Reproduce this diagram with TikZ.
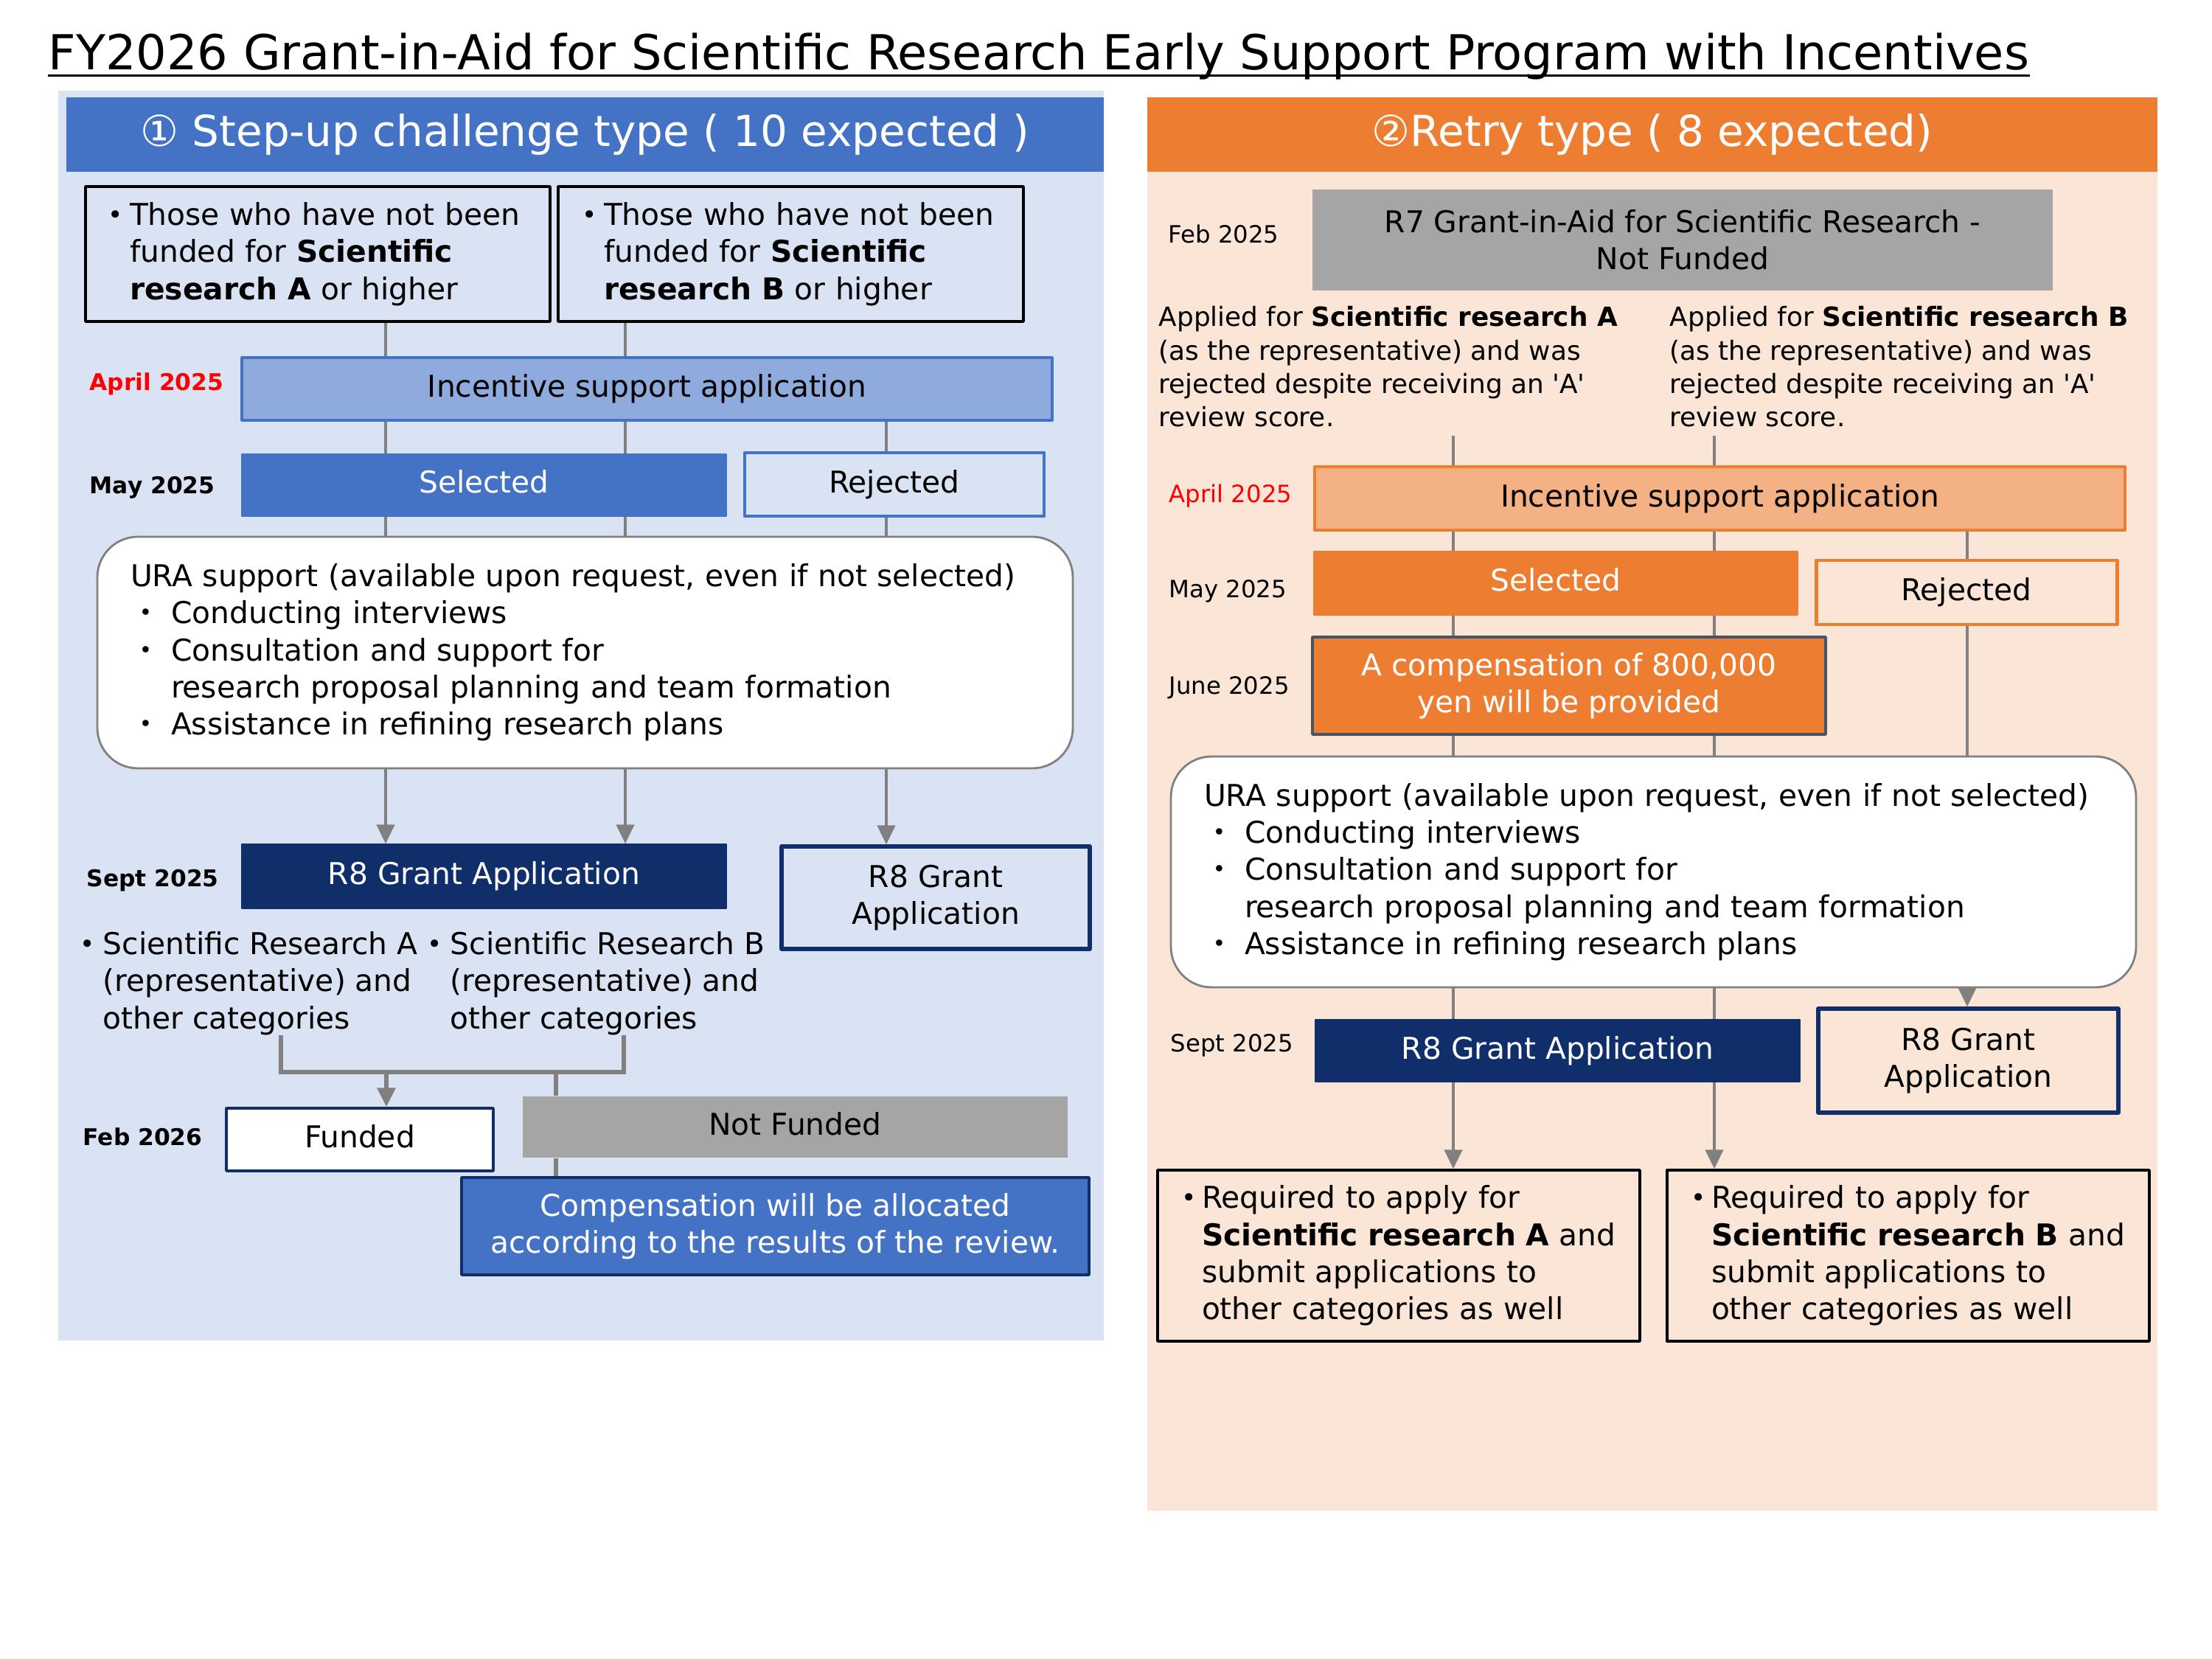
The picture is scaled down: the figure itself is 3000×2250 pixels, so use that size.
\documentclass[tikz,border=0pt]{standalone}
\usepackage{fontspec}
\setmainfont{DejaVu Sans}[Ligatures=TeXOff]
\newfontfamily\cjk{Noto Sans CJK JP}
\usetikzlibrary{arrows.meta,calc}

\definecolor{bgblue}{HTML}{DAE3F3}
\definecolor{hblue}{HTML}{4472C4}
\definecolor{lblue}{HTML}{8FAADC}
\definecolor{navy}{HTML}{102F6A}
\definecolor{gbox}{HTML}{A5A5A5}
\definecolor{peach}{HTML}{FBE5D6}
\definecolor{orng}{HTML}{ED7D31}
\definecolor{lorng}{HTML}{F4B183}
\definecolor{slate}{HTML}{44546A}
\definecolor{conn}{HTML}{808080}
\definecolor{datered}{HTML}{FF0000}

% small bullet in a box of given width
\newcommand{\bulbox}[1]{\makebox[#1][l]{\hspace*{-0.3mm}\raisebox{0.1ex}{\fontsize{9.8pt}{9.8pt}\selectfont •}}}
\newcommand{\myjb}{\makebox[5.5mm][l]{\cjk ・}}
\newcommand{\jind}{\hspace*{5.5mm}}

\tikzset{
  body/.style={font=\fontsize{11.6pt}{14.3pt}\selectfont},
  box/.style={draw, rectangle, inner sep=0pt, body, align=center, line join=round},
  lift/.style={text height=3.1mm, text depth=1mm},
  leftbox/.style={box, draw=black, line width=1pt, align=left, inner xsep=1mm},
  dateb/.style={font=\bfseries\fontsize{8.9pt}{11pt}\selectfont, anchor=west, inner sep=0pt},
  dater/.style={font=\fontsize{9.2pt}{11pt}\selectfont, anchor=west, inner sep=0pt},
  conline/.style={draw=conn, line width=1.2pt},
  arr/.style={conline, -{Triangle[length=2.6mm,width=2.4mm]}},
  brk/.style={draw=conn, line width=1.8pt},
  brkarr/.style={brk, -{Triangle[length=2.6mm,width=2.4mm]}},
  urabox/.style={box, fill=white, draw=conn, line width=0.8pt, rounded corners=5.5mm, align=left, inner xsep=4.5mm},
  header/.style={rectangle, inner sep=0pt, text=white, font=\fontsize{16.5pt}{20pt}\selectfont},
  plaintext/.style={anchor=north west, inner sep=0pt, align=left}
}

\begin{document}
\begin{tikzpicture}[x=0.1mm,y=-0.1mm]
\useasboundingbox (0,0) rectangle (3000,2250);
\fill[white] (0,0) rectangle (3000,2250);

% title
\node[anchor=base west, inner sep=0pt, font=\fontsize{18.6pt}{22pt}\selectfont] (title) at (65,95)
  {FY2026 Grant-in-Aid for Scientific Research Early Support Program with Incentives};
\draw[line width=1.1pt] ([yshift=-0.75mm]title.base west) -- ([yshift=-0.75mm]title.base east);

% panels
\fill[bgblue] (79,123) rectangle (1497,1818);
\fill[peach] (1556,132) rectangle (2926,2049);

\node[header, fill=hblue, minimum width=140.7mm, minimum height=10.1mm] (h1) at (793.5,182.5)
  {① Step-up challenge type ( 10 expected )};
\node[header, fill=orng, minimum width=137mm, minimum height=10.1mm] (h2) at (2241,182.5)
  {②Retry type ( 8 expected)};

% ---------------- left column ----------------
\node[leftbox, text width=61mm, minimum height=18.3mm] (b1) at (431,344.5)
  {\hspace*{2.3mm}\bulbox{2.7mm}Those who have not been\\\hspace*{5mm}funded for \textbf{Scientific}\\\hspace*{5mm}\textbf{research A} or higher};
\node[leftbox, text width=61.1mm, minimum height=18.3mm] (b2) at (1072.5,344.5)
  {\hspace*{2.5mm}\bulbox{2.7mm}Those who have not been\\\hspace*{5.2mm}funded for \textbf{Scientific}\\\hspace*{5.2mm}\textbf{research B} or higher};

\node[dateb, text=datered] (d1) at (121,521) {April 2025};
\node[box, fill=lblue, draw=hblue, line width=0.9pt, minimum width=109.9mm, minimum height=8.5mm] (inc) at (877.5,527.5)
  {Incentive support application};

\node[dateb] (d2) at (121,661) {May 2025};
\node[box, lift, fill=hblue, draw=hblue, text=white, minimum width=65.7mm, minimum height=8.4mm] (sel) at (656.5,658) {Selected};
\node[box, draw=hblue, line width=1.4pt, minimum width=40.6mm, minimum height=8.6mm] (rej) at (1213,657) {Rejected};

\node[urabox, text width=123.3mm, minimum height=31.4mm] (ura) at (793.5,885)
  {URA support (available upon request, even if not selected)\\\myjb Conducting interviews\\\myjb Consultation and support for\\\jind research proposal planning and team formation\\\myjb Assistance in refining research plans};

\node[dateb] (d3) at (117,1194) {Sept 2025};
\node[box, fill=navy, draw=navy, text=white, minimum width=65.7mm, minimum height=8.7mm] (r8) at (656.5,1188.5) {R8 Grant Application};
\node[box, draw=navy, line width=1.5pt, minimum width=41.8mm, minimum height=13.9mm] (r8b) at (1269,1217.5) {R8 Grant\\Application};

\node[plaintext, body] (tA) at (111,1263)
  {\bulbox{2.8mm}Scientific Research A\\\hspace*{2.8mm}(representative) and\\\hspace*{2.8mm}other categories};
\node[plaintext, body] (tB) at (582,1263)
  {\bulbox{2.8mm}Scientific Research B\\\hspace*{2.8mm}(representative) and\\\hspace*{2.8mm}other categories};

\node[dateb] (d4) at (112,1542) {Feb 2026};
\node[box, lift, fill=white, draw=navy, line width=1pt, minimum width=36.2mm, minimum height=8.5mm] (fund) at (488,1545.5) {Funded};
\node[box, lift, fill=gbox, draw=none, minimum width=73.9mm, minimum height=8.3mm] (nf) at (1078.5,1528.5) {Not Funded};
\node[box, fill=hblue, draw=navy, line width=1pt, text=white, minimum width=85.1mm, minimum height=13.2mm] (comp) at (1051.5,1663)
  {Compensation will be allocated\\according to the results of the review.};

% left connectors
\coordinate (xA) at (523,0);
\coordinate (xB) at (848,0);
\coordinate (xC) at (1202,0);
\draw[conline] (b1.south -| xA) -- (inc.north -| xA);
\draw[conline] (b2.south -| xB) -- (inc.north -| xB);
\draw[conline] (inc.south -| xA) -- (sel.north -| xA);
\draw[conline] (inc.south -| xB) -- (sel.north -| xB);
\draw[conline] (inc.south -| xC) -- (rej.north -| xC);
\draw[conline] (sel.south -| xA) -- (ura.north -| xA);
\draw[conline] (sel.south -| xB) -- (ura.north -| xB);
\draw[conline] (rej.south -| xC) -- (ura.north -| xC);
\draw[arr] (ura.south -| xA) -- (r8.north -| xA);
\draw[arr] (ura.south -| xB) -- (r8.north -| xB);
\draw[arr] (ura.south -| xC) -- (r8b.north -| xC);

\coordinate (xL) at (381,0);
\coordinate (xR) at (846,0);
\coordinate (kA) at (381,1454);
\coordinate (kB) at (846,1454);
\coordinate (kF) at (524,1454);
\coordinate (kN) at (754,1454);
\draw[brk] (tA.south -| xL) -- (kA) -- (kB) -- (tB.south -| xR);
\draw[brkarr] (kF) -- (fund.north -| kF);
\draw[brk] (kN) -- (nf.north -| kN);
\draw[brk] (nf.south -| kN) -- (comp.north -| kN);

% ---------------- right column ----------------
\node[dater] (e1) at (1584,317) {Feb 2025};
\node[box, fill=gbox, draw=none, minimum width=100.4mm, minimum height=13.7mm] (r7) at (2282,325.5)
  {R7 Grant-in-Aid for Scientific Research -\\Not Funded};

\node[plaintext, font=\fontsize{10.2pt}{12.9pt}\selectfont] (appA) at (1571,415)
  {Applied for \textbf{Scientific research A}\\(as the representative) and was\\rejected despite receiving an 'A'\\review score.};
\node[plaintext, font=\fontsize{10.2pt}{12.9pt}\selectfont] (appB) at (2264,415)
  {Applied for \textbf{Scientific research B}\\(as the representative) and was\\rejected despite receiving an 'A'\\review score.};

\node[dater, text=datered] (e2) at (1585,673) {April 2025};
\node[box, fill=lorng, draw=orng, line width=0.9pt, minimum width=109.9mm, minimum height=8.6mm] (incR) at (2332.5,676)
  {Incentive support application};

\node[dater] (e3) at (1585,802) {May 2025};
\node[box, lift, fill=orng, draw=orng, text=white, minimum width=65.6mm, minimum height=8.6mm] (selR) at (2110,791) {Selected};
\node[box, draw=orng, line width=1.4pt, minimum width=40.8mm, minimum height=8.7mm] (rejR) at (2667,803.5) {Rejected};

\node[dater] (e4) at (1585,933) {June 2025};
\node[box, fill=orng, draw=slate, line width=1pt, text=white, minimum width=69.6mm, minimum height=13.2mm] (compR) at (2128,930)
  {A compensation of 800,000\\yen will be provided};

\node[urabox, text width=121.9mm, minimum height=31.3mm] (uraR) at (2242.5,1182.5)
  {URA support (available upon request, even if not selected)\\\myjb Conducting interviews\\\myjb Consultation and support for\\\jind research proposal planning and team formation\\\myjb Assistance in refining research plans};

\node[dater] (e5) at (1587,1418) {Sept 2025};
\node[box, fill=navy, draw=navy, text=white, minimum width=65.7mm, minimum height=8.4mm] (r8R) at (2112.5,1425) {R8 Grant Application};
\node[box, draw=navy, line width=1.5pt, minimum width=40.7mm, minimum height=14.1mm] (r8Rb) at (2669.5,1438.5) {R8 Grant\\Application};

\node[leftbox, text width=63.4mm, minimum height=23.2mm] (reqA) at (1897,1703)
  {\hspace*{2.5mm}\bulbox{2.5mm}Required to apply for\\\hspace*{5mm}\textbf{Scientific research A} and\\\hspace*{5mm}submit applications to\\\hspace*{5mm}other categories as well};
\node[leftbox, text width=63.4mm, minimum height=23.2mm] (reqB) at (2588,1703)
  {\hspace*{2.5mm}\bulbox{2.5mm}Required to apply for\\\hspace*{5mm}\textbf{Scientific research B} and\\\hspace*{5mm}submit applications to\\\hspace*{5mm}other categories as well};

% right connectors
\coordinate (xD) at (1971,0);
\coordinate (xE) at (2325,0);
\coordinate (xF) at (2668,0);
\coordinate (sD) at (1971,591);
\coordinate (sE) at (2325,591);
\draw[conline] (sD) -- (incR.north -| sD);
\draw[conline] (sE) -- (incR.north -| sE);
\draw[conline] (incR.south -| xD) -- (selR.north -| xD);
\draw[conline] (incR.south -| xE) -- (selR.north -| xE);
\draw[conline] (incR.south -| xF) -- (rejR.north -| xF);
\draw[conline] (selR.south -| xD) -- (compR.north -| xD);
\draw[conline] (selR.south -| xE) -- (compR.north -| xE);
\draw[conline] (compR.south -| xD) -- (uraR.north -| xD);
\draw[conline] (compR.south -| xE) -- (uraR.north -| xE);
\draw[conline] (rejR.south -| xF) -- (uraR.north -| xF);
\draw[conline] (uraR.south -| xD) -- (r8R.north -| xD);
\draw[conline] (uraR.south -| xE) -- (r8R.north -| xE);
\draw[arr] (uraR.south -| xF) -- (r8Rb.north -| xF);
\draw[arr] (r8R.south -| xD) -- (reqA.north -| xD);
\draw[arr] (r8R.south -| xE) -- (reqB.north -| xE);
\end{tikzpicture}
\end{document}
